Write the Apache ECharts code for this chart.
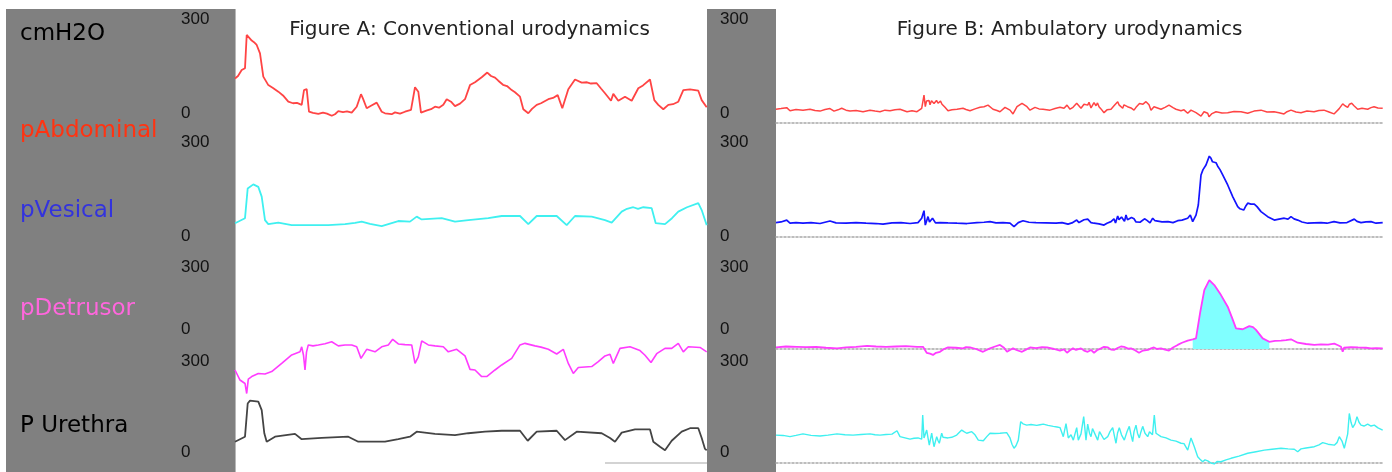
<!DOCTYPE html>
<html>
<head>
<meta charset="utf-8">
<script src="https://cdn.jsdelivr.net/npm/echarts@6/dist/echarts.min.js"></script>
<style>
html,body{margin:0;padding:0;background:#fff;}
#chart{width:1392px;height:472px;}
</style>
</head>
<body>
<div id="chart"></div>
<script>
// ---------- text ----------
const unitLabel = 'cmH2O';
const laneNames = ['pAbdominal', 'pVesical', 'pDetrusor', 'P Urethra'];
const titleA = 'Figure A: Conventional urodynamics';
const titleB = 'Figure B: Ambulatory urodynamics';
const tickValues = [0, 300];

// ---------- Figure A: conventional urodynamics, [time, cmH2O] ----------
const abdA = [[0,142],[3,150],[6.7,169],[10,175],[11.7,281],[13.3,275],[16.7,263],[19,258],[21.7,249],[25,222],[28.3,148],[33.3,121],[38,112],[43.3,100],[48,88],[53.3,68],[58,63],[62,64],[66.7,58],[69,105],[71.7,108],[74,36],[78,32],[83.3,29],[88,33],[92,30],[96.7,23],[100,28],[103.3,38],[108,35],[112,37],[116.7,33],[121.7,52],[126,92],[128,78],[131.7,47],[136,55],[141.7,65],[146.7,36],[150,31],[156.7,28],[160,34],[165,30],[170,36],[176,42],[180,114],[183.3,100],[186,33],[192,40],[196,44],[200,52],[204,49],[208.3,58],[211.7,76],[216,68],[220,54],[225,62],[230,76],[235,121],[240,130],[246.7,146],[252.3,161],[256,150],[260,145],[263.3,135],[268,122],[272,118],[276.7,105],[280,98],[285,84],[288.3,44],[293.3,31],[297,45],[301.7,58],[306,63],[313.3,76],[318,80],[322.7,89],[327.3,47],[333.3,108],[340,139],[346.7,129],[352,130],[356,126],[361.7,127],[366,110],[370,95],[376,71],[378.3,93],[383.3,71],[390,84],[396.7,71],[403.3,111],[408,120],[415,139],[419.3,73],[423.3,58],[428.3,44],[433.3,58],[438,60],[443.3,68],[448.3,105],[455,107],[463.3,103],[466.7,73],[471.7,50]];
const vesA = [[0,44],[10,60],[12.7,155],[18.3,168],[23.3,160],[26.7,129],[30,54],[33.3,41],[43.3,46],[56.7,38],[93.3,38],[110,41],[120,45],[126.7,49],[135,42],[146.7,35],[155,43],[163.3,51],[175,49],[181.7,65],[186.7,56],[206.7,60],[220,49],[233.3,54],[253.3,60],[266.7,67],[285,67],[293.3,41],[301.7,67],[321.7,67],[331.7,38],[340,67],[356.7,65],[370,54],[376.7,46],[386.7,81],[392,90],[398.3,95],[403,90],[408.3,95],[416.7,92],[420.7,44],[430,41],[437,60],[443.3,81],[452,95],[463.3,108],[466.7,86],[471.7,38]];
const detA = [[0,-67],[5,-99],[10,-110],[11.7,-142],[13.3,-96],[16.7,-88],[23.3,-78],[30,-80],[36.7,-72],[46.7,-46],[56.7,-19],[65,-9],[66.7,7],[68.5,-20],[70,-67],[71.5,-10],[73.3,13],[78,10],[83.3,13],[90,17],[96.7,23],[103.3,10],[110,13],[116.7,13],[121.7,7],[126,-30],[131.7,-1],[140,-9],[146.7,7],[153.3,13],[157.7,31],[163.3,16],[170,14],[176.7,13],[180,-46],[183.3,-25],[186.7,26],[193.3,13],[200,10],[208.3,7],[213.3,-9],[221.7,-1],[230,-22],[235,-65],[240,-67],[246.7,-88],[251.7,-88],[260,-67],[266.7,-51],[276.7,-30],[285,13],[290,18],[300,10],[306,6],[313.3,-1],[321.7,-16],[328.3,-1],[333.3,-46],[338.3,-78],[343.3,-59],[356.7,-56],[363.3,-40],[370,-22],[375,-17],[378.3,-46],[385,2],[395,7],[405,-5],[410,-20],[416,-43],[421.7,-15],[430,2],[436.7,2],[443.3,18],[448.3,-9],[453.3,7],[465,5],[471.7,-9]];
const uraA = [[0,68],[10,84],[12.7,190],[15,199],[23.3,196],[26.7,169],[29.3,95],[31.7,68],[40,84],[60,93],[66.7,76],[86.7,80],[113.3,84],[123.3,68],[150,68],[163.3,76],[175,84],[181.7,100],[200,93],[220,89],[233.3,95],[250,100],[266.7,103],[285,103],[292.7,71],[301.7,100],[321.7,103],[330,73],[341.7,100],[366.7,95],[375,80],[380,68],[386.7,97],[400,107],[415,107],[418.3,68],[425,52],[430,41],[436.7,71],[446.7,100],[455,111],[463.3,111],[466.7,80],[470,45],[471.7,41]];

// ---------- Figure B: ambulatory urodynamics, [time, cmH2O] ----------
const abdB = [[0,44],[5,46],[10.7,49],[14,39],[20,43],[27,41],[34,44],[39,40],[44,38],[49,43],[54,46],[58,38],[62,42],[65.7,47],[70,41],[74,38],[80,40],[87,36],[94,41],[99,38],[104,36],[109,41],[114,39],[119,42],[124,44],[131,36],[136,39],[141,36],[145.7,47],[148,89],[149.3,52],[150.5,70],[152,65],[153,72],[154,58],[155.5,71],[157,68],[158,62],[159,60],[160.5,72],[162,63],[163.5,69],[164.5,70],[166,60],[167,57],[169,50],[172,39],[176,42],[181,44],[187,47],[190,43],[194,39],[199,45],[204,50],[208,52],[212,57],[217,44],[221,40],[224,36],[229,50],[234,41],[237,29],[241,52],[246,63],[251,52],[254,41],[259,50],[263,45],[267,44],[274,41],[279,46],[284,50],[288,47],[291,57],[294,44],[297,50],[300.7,63],[305,47],[308,60],[311.7,57],[313,66],[315,48],[318,65],[320,55],[321.5,64],[323,52],[325,45],[328,33],[331,42],[335,44],[338,55],[340,50],[341.7,68],[343,58],[344,52],[346.7,47],[348,58],[350,62],[351.5,52],[353,57],[355,48],[358,41],[360,50],[362,55],[363.5,62],[365,65],[367,60],[370,68],[371.5,63],[373,58],[375,41],[378,52],[380,47],[385,44],[389,50],[393,57],[397,49],[400,44],[405,39],[408,42],[411.7,31],[415,41],[420,33],[422,38],[425,22],[428,36],[431.7,31],[433,20],[436,30],[440,36],[446,32],[451.7,33],[458,37],[465,36],[471.7,31],[478,38],[485,41],[491,35],[498,36],[503,33],[508,29],[511,36],[515,41],[520,35],[525,33],[531,38],[538,36],[543,40],[548,41],[553,35],[558,29],[563,45],[566.7,61],[569,55],[571.7,50],[573.5,60],[575.7,63],[578,55],[581.7,44],[586,47],[591.7,44],[595,49],[598,52],[602,48],[606.7,47]];
const vesB = [[0,46],[5,48],[10.7,54],[14,44],[20,46],[27,44],[35,46],[44,43],[54,51],[60,45],[70,44],[80,46],[90,44],[100,43],[107,41],[116,45],[125,46],[134,43],[142,46],[145.7,60],[148,84],[149.3,38],[151,55],[152,65],[153.5,48],[155,49],[156.5,60],[158,57],[159.5,45],[161,47],[164,46],[172,45],[181,44],[191,43],[201,46],[208,47],[214,49],[220,45],[227,46],[234,44],[238,33],[242.3,46],[247,52],[253,47],[260,46],[270,45],[280,44],[286,46],[292,41],[296,45],[300.7,54],[303,46],[305,49],[308,55],[311.7,57],[315,46],[318,44],[323,42],[328,38],[331,44],[335,49],[338,58],[339.5,45],[341.7,67],[343,55],[344,50],[345.5,64],[347,62],[348.5,50],[350,70],[351.5,55],[353,49],[355.5,62],[358,58],[360,48],[361.7,54],[364,47],[366,46],[368.5,58],[371,53],[374,45],[376.7,60],[379,52],[381,46],[386,48],[392,49],[397,46],[401.7,52],[406,54],[411.7,60],[414.3,70],[416.7,49],[420,70],[422.3,102],[425,198],[427,215],[430,230],[433.3,258],[435,251],[436.5,240],[438.3,235],[440,237],[441.7,226],[444,215],[446.7,198],[451.7,166],[456.7,129],[461.7,97],[464,90],[467.7,86],[470,100],[471.7,108],[475,105],[478.3,105],[481,97],[485,81],[491.7,65],[498.3,54],[503,57],[508.3,60],[512,57],[515,65],[518,58],[521.7,54],[526,48],[531.7,44],[538,45],[545,46],[551,44],[558,49],[564,45],[571,46],[578.3,57],[581,50],[585,46],[590,48],[595,49],[600,44],[606.7,46]];
const detB = [[0,5],[10,8],[21,7],[30,6],[40,7],[50,4],[61,2],[70,5],[80,7],[91,10],[100,8],[110,7],[120,8],[130,9],[141,7],[147,7],[150.7,-12],[154,-15],[157,-19],[160,-12],[164,-9],[168,0],[172,5],[180,4],[187,2],[190,6],[194,5],[200,0],[207,-9],[210,-4],[214,2],[219,8],[224,13],[228,4],[231,-9],[234,-3],[237,2],[241,-4],[246,-9],[250,-2],[254,5],[260,3],[266,6],[271,5],[278,0],[284,-5],[288,-1],[291,-12],[294,-4],[297,2],[300,-3],[302,-9],[305,2],[308,-5],[311.7,-9],[315,-3],[318,-12],[321,-4],[325,2],[328,7],[332,5],[335,-2],[338,-3],[342,4],[345,8],[348,7],[352,1],[355,2],[359,-4],[363,-12],[367,-5],[372,-3],[375,2],[378,5],[381,0],[385,2],[389,-2],[393,-5],[397,5],[401.7,13],[406,20],[411.7,27],[416.7,31],[420,34],[424.3,119],[428.3,188],[433.3,220],[438.3,204],[445,172],[451.7,135],[456,100],[460,66],[466.7,63],[473.3,73],[477,70],[480,61],[486.7,34],[493.3,23],[499,26],[505,27],[510,28],[515,31],[521.7,20],[530,16],[538.3,13],[545,15],[552,14],[558.3,17],[562,12],[565,7],[566.7,-9],[568,4],[570,10],[575,6],[582,5],[590,4],[595,2],[600,3],[606.7,2]];
const detBContraction = [[416.7,31],[420,34],[424.3,119],[428.3,188],[433.3,220],[438.3,204],[445,172],[451.7,135],[456,100],[460,66],[466.7,63],[473.3,73],[477,70],[480,61],[486.7,34],[493.3,23]];
const uraB = [[0,89],[7,88],[14,84],[20,88],[27,93],[35,88],[44,86],[52,89],[61,93],[69,90],[77,89],[85,91],[94,93],[99,90],[104,89],[110,91],[116,92],[121,103],[124,84],[129,80],[134,76],[138,79],[142,80],[145.7,76],[146.7,153],[148,80],[150.7,105],[152,80],[153.3,57],[155.7,95],[157,70],[158,52],[160.7,84],[162,72],[163.3,63],[165.7,95],[167,82],[169,76],[172,80],[175.7,82],[180.7,89],[185.7,105],[188,100],[190.7,95],[195.7,100],[199,90],[202.3,73],[207.3,71],[211,85],[214,95],[219,94],[224,95],[230.7,97],[234,80],[236,60],[238,47],[240,55],[242.3,73],[244.7,132],[247,125],[250.7,121],[255,123],[260.7,120],[264,122],[267.3,124],[272,120],[277.3,117],[281,115],[284,113],[287.3,84],[290,126],[292.3,80],[295,90],[297.3,73],[300.7,113],[302.3,73],[305,93],[307.7,148],[310,73],[311.7,124],[313.5,95],[315,84],[316.5,110],[318.3,105],[320,85],[321.7,73],[323.5,100],[325,100],[328,75],[331.7,84],[334,100],[336.7,113],[338.5,85],[340,63],[341.5,95],[343.3,113],[345.5,90],[348.3,73],[351,100],[353.3,117],[355,90],[356.7,68],[358,100],[360,121],[361.5,95],[363.3,80],[365,100],[366.7,117],[369,95],[371.7,84],[373.5,100],[375,105],[376.5,90],[378.3,153],[380,95],[382,90],[385,84],[390,80],[395,73],[400,70],[405,63],[408,62],[411.7,41],[415,80],[418.3,52],[421.7,20],[424,12],[426.7,4],[429,10],[431.7,7],[435,0],[438.3,-3],[441,5],[445,4],[450,10],[455,15],[463,22],[471.7,31],[480,36],[488.3,41],[496,44],[505,47],[512,45],[518.3,44],[521.7,36],[525,45],[530,48],[538.3,52],[543,58],[546.7,65],[552,60],[558.3,57],[561,65],[563.3,84],[566,70],[568.3,47],[571.7,93],[573.3,158],[575,130],[576.7,113],[579,125],[581,148],[583,130],[585,121],[588,118],[591.7,124],[595,118],[598.3,121],[602,112],[606.7,105]];

// ---------- layout ----------
const laneZero = [123, 237, 349, 463];      // pixel row of 0 cmH2O per lane
const pxPer300 = 94;
const laneMin = [-30, -30, -150, -20];
const label300Y = [19, 142.5, 267.5, 361];
const label0Y = [113, 236, 329.5, 452];
const laneColors = ['#ff3311', '#3333dd', '#ff66dd', '#000000'];

const grids = [], xAxes = [], yAxes = [];
function addGrid(g) { grids.push(Object.assign({outerBoundsMode: 'none', containLabel: false}, g)); return grids.length - 1; }

const gA = [], gB = [], gL = [];
for (let i = 0; i < 4; i++) {
  const top = laneZero[i] - pxPer300;
  const height = pxPer300 * (300 - laneMin[i]) / 300;
  gA.push(addGrid({left: 235, width: 472, top: top, height: height}));
}
for (let i = 0; i < 4; i++) {
  const top = laneZero[i] - pxPer300;
  const height = pxPer300 * (300 - laneMin[i]) / 300;
  gB.push(addGrid({left: 776, width: 607, top: top, height: height}));
}
for (let i = 0; i < 4; i++) {
  gL.push(addGrid({left: 181, width: 539, top: label300Y[i], height: label0Y[i] - label300Y[i]}));
}

// x axes
for (let i = 0; i < 4; i++) xAxes.push({gridIndex: gA[i], type: 'value', min: 0, max: 472, show: false});
for (let i = 0; i < 4; i++) xAxes.push({
  gridIndex: gB[i], type: 'value', min: 0, max: 607, show: true,
  axisLine: {show: true, onZero: true, lineStyle: {color: '#a8a8a8', width: 1.6, type: [2, 2]}},
  axisTick: {show: false}, axisLabel: {show: false}, splitLine: {show: false}
});
for (let i = 0; i < 4; i++) xAxes.push({gridIndex: gL[i], type: 'value', min: 0, max: 1, show: false});

// y axes (data)
for (let i = 0; i < 4; i++) yAxes.push({gridIndex: gA[i], type: 'value', min: laneMin[i], max: 300, show: false});
for (let i = 0; i < 4; i++) yAxes.push({gridIndex: gB[i], type: 'value', min: laneMin[i], max: 300, show: false});
// y axes (tick labels in the grey panels)
const labelAxisStyle = {
  show: true, align: 'left', margin: 0, color: '#111',
  fontFamily: '"Liberation Sans Narrow", "Liberation Sans", sans-serif', fontSize: 17,
  showMinLabel: true, showMaxLabel: true, customValues: tickValues
};
for (let i = 0; i < 4; i++) yAxes.push({
  gridIndex: gL[i], type: 'value', position: 'left', min: 0, max: 300, interval: 300,
  axisLine: {show: false}, axisTick: {show: false}, splitLine: {show: false},
  axisLabel: Object.assign({}, labelAxisStyle)
});
for (let i = 0; i < 4; i++) yAxes.push({
  gridIndex: gL[i], type: 'value', position: 'right', min: 0, max: 300, interval: 300,
  axisLine: {show: false}, axisTick: {show: false}, splitLine: {show: false},
  axisLabel: Object.assign({}, labelAxisStyle)
});

function lineSeries(name, data, axis, color, width, extra) {
  return Object.assign({
    name: name, type: 'line', data: data, xAxisIndex: axis, yAxisIndex: axis,
    showSymbol: false, symbol: 'none', animation: false, z: 3,
    lineStyle: {color: color, width: width}
  }, extra || {});
}

const series = [
  lineSeries('pAbdominal A', abdA, 0, '#ff4444', 1.8),
  lineSeries('pVesical A', vesA, 1, '#3ff0f0', 1.8),
  lineSeries('pDetrusor A', detA, 2, '#ff3cff', 1.6),
  lineSeries('P Urethra A', uraA, 3, '#444444', 1.8, {
    markLine: {
      silent: true, symbol: 'none', label: {show: false}, animation: false,
      lineStyle: {color: '#c4c4c4', width: 1.5, type: 'solid'},
      data: [[{coord: [370, 0]}, {coord: [472, 0]}]]
    }
  }),
  lineSeries('pAbdominal B', abdB, 4, '#ff4444', 1.5),
  lineSeries('pVesical B', vesB, 5, '#1414ff', 1.7),
  lineSeries('pDetrusor B contraction', detBContraction, 6, '#80ffff', 0, {
    z: 2, areaStyle: {color: '#80ffff', opacity: 1}
  }),
  lineSeries('pDetrusor B', detB, 6, '#ff3cff', 1.8),
  lineSeries('P Urethra B', uraB, 7, '#3ff0f0', 1.4)
];

// ---------- grey panels and text ----------
const textEls = [
  {type: 'text', x: 20, y: 34.5, z: 100, style: {text: unitLabel, fill: '#000', font: '23px "DejaVu Sans", sans-serif', align: 'left', verticalAlign: 'middle'}}
];
const laneLabelY = [131, 211, 309, 426];
for (let i = 0; i < 4; i++) {
  textEls.push({type: 'text', x: 20, y: laneLabelY[i], z: 100,
    style: {text: laneNames[i], fill: laneColors[i], font: '23px "DejaVu Sans", sans-serif', align: 'left', verticalAlign: 'middle'}});
}
textEls.push({type: 'text', x: 469.5, y: 29.5, z: 100,
  style: {text: titleA, fill: '#222', font: '20px "DejaVu Sans", sans-serif', align: 'center', verticalAlign: 'middle'}});
textEls.push({type: 'text', x: 1069.5, y: 29.5, z: 100,
  style: {text: titleB, fill: '#222', font: '20px "DejaVu Sans", sans-serif', align: 'center', verticalAlign: 'middle'}});

const graphicEls = [
  {type: 'rect', z: -10, shape: {x: 6, y: 9, width: 229, height: 463}, style: {fill: '#808080'}},
  {type: 'rect', z: -10, shape: {x: 707, y: 9, width: 69, height: 463}, style: {fill: '#808080'}},
  {type: 'line', z: -9, shape: {x1: 235.5, y1: 9, x2: 235.5, y2: 472}, style: {stroke: '#b8b8b8', lineWidth: 1}}
].concat(textEls);

const chart = echarts.init(document.getElementById('chart'), null, {renderer: 'canvas'});
chart.setOption({
  animation: false,
  backgroundColor: '#ffffff',
  grid: grids,
  xAxis: xAxes,
  yAxis: yAxes,
  series: series,
  graphic: {elements: graphicEls}
});
</script>
</body>
</html>
